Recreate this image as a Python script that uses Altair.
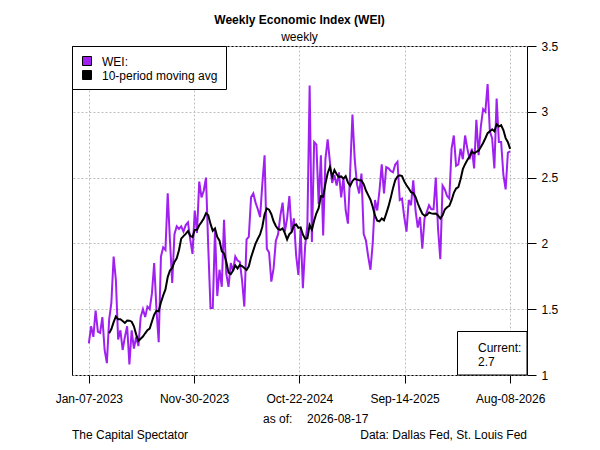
import altair as alt
import pandas as pd

# ---------------- data ----------------
start_date = "2023-01-07"
wei = [
    1.24, 1.37, 1.29, 1.49, 1.33, 1.32, 1.44, 1.19, 1.09, 1.42,
    1.55, 1.90, 1.72, 1.27, 1.34, 1.19, 1.29, 1.37, 1.08, 1.34,
    1.20, 1.29, 1.22, 1.44, 1.50, 1.44, 1.52, 1.50, 1.62, 1.85,
    1.50, 1.25, 1.90, 1.97, 1.95, 2.38, 2.02, 1.70, 2.07, 2.13,
    2.11, 2.13, 2.09, 2.14, 2.16, 2.03, 1.92, 2.25, 2.08, 2.47,
    2.35, 2.40, 2.50, 1.97, 1.51, 1.51, 2.10, 1.60, 1.80, 1.67,
    2.18, 1.77, 1.67, 1.85, 1.79, 1.90, 1.87, 1.86, 1.72, 1.52,
    2.03, 2.05, 2.35, 2.38, 2.31, 2.26, 2.20, 2.45, 2.67, 1.96,
    1.93, 1.71, 1.81, 2.02, 2.07, 2.21, 2.31, 2.09, 2.19, 2.36,
    2.09, 2.19, 1.91, 1.76, 2.11, 1.66, 1.98, 2.14, 3.20, 2.01,
    2.77, 2.75, 2.30, 2.67, 2.06, 2.64, 2.79, 2.62, 2.46, 2.52,
    2.44, 2.54, 2.35, 2.50, 2.25, 2.15, 2.55, 2.98, 2.64, 2.45,
    2.38, 2.53, 2.07, 2.02, 1.90, 1.80, 2.00, 2.33, 2.25, 2.40,
    2.60, 2.38, 2.58, 2.57, 2.55, 2.54, 2.60, 2.62, 2.33, 2.34,
    2.20, 2.09, 2.33, 2.29, 2.48, 2.25, 2.12, 2.20, 1.96, 2.19,
    2.24, 2.29, 2.26, 2.26, 2.50, 2.11, 1.88, 2.44, 2.41, 2.36,
    2.34, 2.72, 2.82, 2.59, 2.60, 2.72, 2.64, 2.82, 2.72, 2.64,
    2.72, 2.57, 2.94, 2.67, 2.89, 3.02, 3.00, 3.21, 2.85, 2.80,
    2.57, 3.10, 2.77, 2.77, 2.52, 2.41, 2.69, 2.70,
]
ma_window = 10
x_tick_labels = ["Jan-07-2023", "Nov-30-2023", "Oct-22-2024", "Sep-14-2025", "Aug-08-2026"]
y_ticks = [1, 1.5, 2, 2.5, 3, 3.5]
y_domain = [1, 3.5]

title_text = "Weekly Economic Index (WEI)"
subtitle_text = "weekly"
legend_labels = ["WEI:", "10-period moving avg"]
as_of_label = "as of:"
as_of_date = "2026-08-17"
current_title = "Current:"
current_value = "2.7"
source_left = "The Capital Spectator"
source_right = "Data: Dallas Fed, St. Louis Fed"

PURPLE = "#A020F0"
FONT = "Liberation Sans"

# ---------------- tables ----------------
dates = pd.date_range(start_date, periods=len(wei), freq="7D")
df = pd.DataFrame({"date": dates.strftime("%Y-%m-%d"), "wei": wei})
df["ma"] = df["wei"].rolling(ma_window).mean().round(4)
ma_df = df.dropna().reset_index(drop=True)


def ms(ts):
    return int(pd.Timestamp(ts).value // 10**6)


span = dates[-1] - dates[0]
x_domain = [ms(dates[0] - span * 0.04), ms(dates[-1] + span * 0.04)]
tick_vals = [ms(pd.to_datetime(s, format="%b-%d-%Y")) for s in x_tick_labels]

W, H = 455, 329

x_enc = alt.X(
    "date:T",
    scale=alt.Scale(type="utc", domain=x_domain),
    axis=alt.Axis(
        values=tick_vals, format="%b-%d-%Y", title=None, orient="bottom",
        domain=False, tickSize=8, tickColor="black", tickWidth=1,
        labelFont=FONT, labelFontSize=12, labelColor="black",
        labelBaseline="alphabetic", labelPadding=19,
        labelFlush=False, labelOverlap=False,
        grid=True, gridColor="#BEBEBE", gridDash=[2, 2], gridWidth=1,
    ),
)


def y_enc(field):
    return alt.Y(
        field,
        scale=alt.Scale(domain=y_domain, nice=False, zero=False),
        axis=alt.Axis(
            values=y_ticks, format=".1~f", title=None, orient="right",
            domain=False, tickSize=9, tickColor="black", tickWidth=1,
            labelFont=FONT, labelFontSize=12, labelColor="black",
            labelPadding=5, labelAlign="left", labelBaseline="middle",
            labelFlush=False, labelOverlap=False,
            grid=True, gridColor="#BEBEBE", gridDash=[2, 2], gridWidth=1,
        ),
    )


wei_line = alt.Chart(df).mark_line(color=PURPLE, strokeWidth=2).encode(
    x=x_enc, y=y_enc("wei:Q")
)
ma_line = alt.Chart(ma_df).mark_line(color="black", strokeWidth=2).encode(
    x="date:T", y="ma:Q"
)

one = pd.DataFrame({"k": [0]})


def text(label, x, y, align="left", bold=False):
    return alt.Chart(one).mark_text(
        align=align, baseline="alphabetic", font=FONT, fontSize=12,
        color="black", fontWeight="bold" if bold else "normal",
    ).encode(x=alt.value(x), y=alt.value(y), text=alt.value(label))


def box(x1, x2, y1, y2, fill="white", stroke="black"):
    return alt.Chart(one).mark_rect(fill=fill, stroke=stroke, strokeWidth=1).encode(
        x=alt.value(x1), x2=alt.value(x2), y=alt.value(y1), y2=alt.value(y2)
    )


layers = [
    wei_line,
    ma_line,
    # legend
    box(0.5, 154.5, 0.5, 43.5),
    box(10.5, 19.5, 10.5, 19.5, fill=PURPLE),
    box(10.5, 19.5, 24.5, 33.5, fill="black"),
    text(legend_labels[0], 30, 19.5),
    text(legend_labels[1], 30, 34),
    # current box
    box(385.5, 455, 285.5, 329),
    text(current_title, 406, 305.5),
    text(current_value, 406, 320),
    # titles
    text(title_text, W / 2, -22.5, align="center", bold=True),
    text(subtitle_text, W / 2, -5.5, align="center"),
    # footer
    text(as_of_label, 191, 377),
    text(as_of_date, 235, 377),
    text(source_left, 0, 393),
    text(source_right, 455, 393, align="right"),
]

chart = (
    alt.layer(*layers)
    .properties(
        width=W, height=H,
        autosize=alt.AutoSizeParams(type="none"),
        padding={"left": 64, "top": 38, "right": 50, "bottom": 67},
    )
    .configure(font=FONT)
    .configure_view(stroke="black", strokeWidth=1)
)

chart.save("out.html", embed_options={"renderer": "svg", "actions": False})
